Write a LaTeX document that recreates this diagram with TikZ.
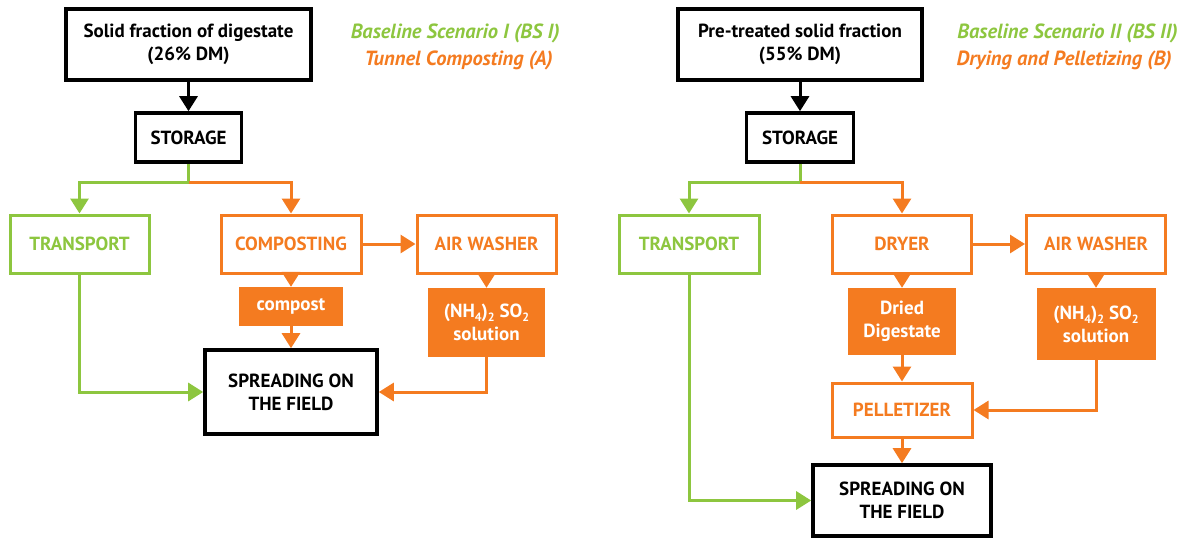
\documentclass[tikz,border=0pt]{standalone}
\usepackage{fontspec}
\setmainfont{PT Sans}
\usetikzlibrary{arrows.meta,calc}
\definecolor{gr}{HTML}{8DC63F}
\definecolor{og}{HTML}{F47B20}
\newcommand{\lsub}[1]{\raisebox{-0.45ex}{\fontsize{12}{12}\selectfont #1}}
\begin{document}
\begin{tikzpicture}[x=1pt,y=-1pt,
 box/.style={rectangle, inner sep=0pt, align=center, font=\fontsize{19}{23}\selectfont\bfseries},
 blackbox/.style={box, draw=black, line width=3.6pt, text=black},
 obox/.style={box, draw=og, line width=3pt, text=og},
 gbox/.style={box, draw=gr, line width=3pt, text=gr},
 fbox/.style={box, fill=og, text=white},
 tip/.style={-{Triangle[width=18pt,length=15pt]}},
 gline/.style={draw=gr, line width=3pt},
 oline/.style={draw=og, line width=3pt},
 kline/.style={draw=black, line width=3pt},
 legend/.style={anchor=east, inner sep=0pt, font=\fontsize{20.5}{22}\selectfont\bfseries\itshape},
]
\useasboundingbox (0,0) rectangle (1192,538);
% ---------------- left panel ----------------
\node[blackbox, minimum width=245, minimum height=71] (top1) at (188.5,44.5) {Solid fraction of digestate\\(26\% DM)};
\node[blackbox, minimum width=106, minimum height=49] (st1) at (188.5,137.5) {STORAGE};
\node[gbox, minimum width=139, minimum height=58] (tr1) at (79.5,244) {TRANSPORT};
\node[obox, minimum width=140, minimum height=58] (co1) at (291,244) {COMPOSTING};
\node[obox, minimum width=139, minimum height=58] (aw1) at (486.5,244) {AIR WASHER};
\node[fbox, minimum width=104, minimum height=39] (cp1) at (291,306.5) {compost};
\node[fbox, minimum width=117, minimum height=69] (so1) at (486.5,322.5) {(NH\lsub{4})\lsub{2} SO\lsub{2}\\solution};
\node[blackbox, minimum width=172, minimum height=84] (sp1) at (291,392) {SPREADING ON\\THE FIELD};
\node[legend, text=gr] (l1a) at (560,33) {Baseline Scenario I (BS I)};
\node[legend, text=og] (l1b) at (553,60) {Tunnel Composting (A)};
\coordinate (b1) at ($(st1.south)+(0,19)$);
\draw[kline,tip] (top1) -- (st1);
\draw[gline] (st1.south) -- (b1);
\draw[gline,tip] (b1) -| (tr1.north);
\draw[oline,tip] (b1) -| (co1.north);
\draw[oline,tip] (co1) -- (aw1);
\draw[oline,tip] (co1) -- (cp1);
\draw[oline,tip] (aw1) -- (so1);
\draw[oline,tip] (cp1) -- (sp1);
\draw[gline,tip] (tr1.south) |- (sp1.west);
\draw[oline,tip] (so1.south) |- (sp1.east);
% ---------------- right panel ----------------
\node[blackbox, minimum width=244, minimum height=71] (top2) at (800,44.5) {Pre-treated solid fraction\\(55\% DM)};
\node[blackbox, minimum width=107, minimum height=49] (st2) at (800,137.5) {STORAGE};
\node[gbox, minimum width=140, minimum height=58] (tr2) at (689,244) {TRANSPORT};
\node[obox, minimum width=139, minimum height=58] (dr2) at (902,244) {DRYER};
\node[obox, minimum width=139, minimum height=58] (aw2) at (1096,244) {AIR WASHER};
\node[fbox, minimum width=108, minimum height=67] (dd2) at (902,321.5) {Dried\\Digestate};
\node[fbox, minimum width=119, minimum height=72] (so2) at (1096,324) {(NH\lsub{4})\lsub{2} SO\lsub{2}\\solution};
\node[obox, minimum width=140, minimum height=54] (pe2) at (902,410) {PELLETIZER};
\node[blackbox, minimum width=178, minimum height=71] (sp2) at (902,500.5) {SPREADING ON\\THE FIELD};
\node[legend, text=gr] (l2a) at (1178,33) {Baseline Scenario II (BS II)};
\node[legend, text=og] (l2b) at (1172,60) {Drying and Pelletizing (B)};
\coordinate (b2) at ($(st2.south)+(0,19)$);
\draw[kline,tip] (top2) -- (st2);
\draw[gline] (st2.south) -- (b2);
\draw[gline,tip] (b2) -| (tr2.north);
\draw[oline,tip] (b2) -| (dr2.north);
\draw[oline,tip] (dr2) -- (aw2);
\draw[oline,tip] (dr2) -- (dd2);
\draw[oline,tip] (aw2) -- (so2);
\draw[oline,tip] (dd2) -- (pe2);
\draw[oline,tip] (pe2) -- (sp2);
\draw[oline,tip] (so2.south) |- (pe2.east);
\draw[gline,tip] (tr2.south) |- (sp2.west);
\end{tikzpicture}
\end{document}
